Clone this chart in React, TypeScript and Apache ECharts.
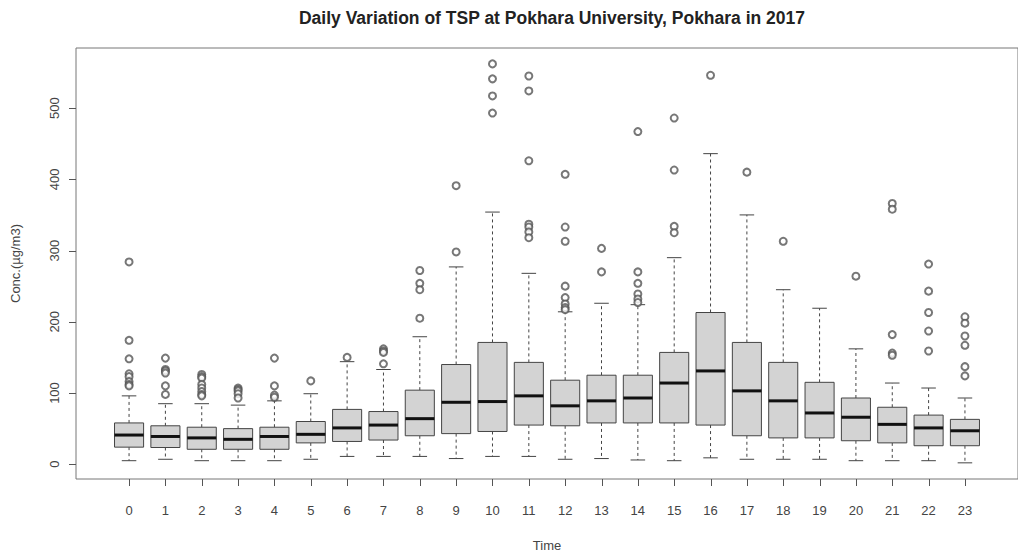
import React, { useEffect, useRef } from "react";
import * as echarts from "echarts";

const hours: number[] = Array.from({ length: 24 }, (_, i) => i);
const yTicks: number[] = [0, 100, 200, 300, 400, 500];

const lowerWhisker: number[] = [5, 7, 5, 5, 5, 7, 11, 11, 11, 8, 11, 11, 7, 8, 6, 5, 9, 7, 7, 7, 5, 5, 5, 2];
const q1: number[] = [24, 23.5, 21, 21, 21, 30, 32, 34, 40, 43, 46, 55, 54, 58, 58, 58, 55, 40, 37, 37, 33, 30, 26, 26];
const median: number[] = [41, 39, 37, 35, 39, 42, 51, 55, 64, 87, 88, 96, 82, 89, 93, 114, 131, 103, 89, 72, 66, 56, 51, 47];
const q3: number[] = [58, 54, 52, 50, 52, 60, 77, 74, 104, 140, 171, 143, 118, 125, 125, 157, 213, 171, 143, 115, 93, 80, 69, 63];
const upperWhisker: number[] = [96, 85, 85, 83, 89, 99, 144, 133, 179, 277, 354, 268, 214, 226, 224, 290, 436, 350, 245, 219, 162, 114, 107, 93];

const outliers: number[][] = [
  [284, 174, 148, 127, 123, 116, 112, 110],
  [149, 133, 131, 128, 110, 98],
  [126, 123, 121, 112, 107, 102, 98, 96],
  [107, 105, 103, 99, 93],
  [149, 110, 97, 94],
  [117],
  [150],
  [162, 159, 157, 141],
  [272, 254, 245, 205],
  [391, 298],
  [562, 541, 517, 493],
  [545, 524, 426, 337, 333, 326, 318],
  [407, 333, 313, 250, 234, 225, 220, 217],
  [303, 270],
  [467, 270, 254, 239, 232, 227],
  [486, 413, 334, 325],
  [546],
  [410],
  [313],
  [],
  [264],
  [366, 358, 182, 156, 153],
  [281, 243, 213, 187, 159],
  [207, 198, 180, 167, 137, 124],
];

const FONT = "'Liberation Sans', Arial, sans-serif";
const X_MIN = -1.46;
const X_MAX = 24.46;
const Y_MIN = -20.7;
const Y_MAX = 584.3;

export default function App() {
  const ref = useRef<HTMLDivElement>(null);

  useEffect(() => {
    if (!ref.current) return;
    const chart = echarts.init(ref.current, undefined, { renderer: "svg" });

    const boxData = hours.map((h, i) => [h, lowerWhisker[i], q1[i], median[i], q3[i], upperWhisker[i]]);
    const outlierData: number[][] = [];
    outliers.forEach((arr, i) => arr.forEach((v) => outlierData.push([hours[i], v])));

    const renderItem = (params: any, api: any) => {
      const x = api.value(0);
      const lo = api.coord([x, api.value(1)]);
      const b1 = api.coord([x, api.value(2)]);
      const md = api.coord([x, api.value(3)]);
      const b3 = api.coord([x, api.value(4)]);
      const hi = api.coord([x, api.value(5)]);
      const w = api.size([0.8, 0])[0];
      const hw = w / 2;
      const cap = hw / 2;
      const cx = md[0];
      const dash = { stroke: "#444", lineWidth: 1, lineDash: [3, 3] };
      const solid = { stroke: "#444", lineWidth: 1 };
      return {
        type: "group",
        children: [
          { type: "line", shape: { x1: cx, y1: b3[1], x2: cx, y2: hi[1] }, style: dash },
          { type: "line", shape: { x1: cx, y1: b1[1], x2: cx, y2: lo[1] }, style: dash },
          { type: "line", shape: { x1: cx - cap, y1: hi[1], x2: cx + cap, y2: hi[1] }, style: solid },
          { type: "line", shape: { x1: cx - cap, y1: lo[1], x2: cx + cap, y2: lo[1] }, style: solid },
          {
            type: "rect",
            shape: { x: cx - hw, y: b3[1], width: w, height: b1[1] - b3[1] },
            style: { fill: "#d3d3d3", stroke: "#444", lineWidth: 1 },
          },
          {
            type: "line",
            shape: { x1: cx - hw, y1: md[1], x2: cx + hw, y2: md[1] },
            style: { stroke: "#111", lineWidth: 3 },
          },
        ],
      };
    };

    const xTickItem = (params: any, api: any) => {
      const p = api.coord([api.value(0), api.value(1)]);
      const x = Math.round(p[0]) + 0.5;
      return {
        type: "line",
        shape: { x1: x, y1: p[1], x2: x, y2: p[1] + 7 },
        style: { stroke: "#555", lineWidth: 1 },
      };
    };
    const yTickItem = (params: any, api: any) => {
      const p = api.coord([api.value(0), api.value(1)]);
      const y = Math.round(p[1]) + 0.5;
      return {
        type: "line",
        shape: { x1: p[0], y1: y, x2: p[0] - 7, y2: y },
        style: { stroke: "#555", lineWidth: 1 },
      };
    };

    chart.setOption({
      animation: false,
      backgroundColor: "#ffffff",
      title: {
        text: "Daily Variation of TSP at Pokhara University, Pokhara in 2017",
        left: 547,
        top: 4,
        textAlign: "center",
        textStyle: { fontFamily: FONT, fontSize: 17.5, fontWeight: "bold", color: "#222" },
      },
      grid: {
        left: 76,
        top: 48,
        width: 952,
        height: 438,
        show: true,
        borderColor: "#777",
        borderWidth: 1,
        backgroundColor: "transparent",
        containLabel: false,
      },
      xAxis: {
        type: "value",
        min: X_MIN,
        max: X_MAX,
        name: "Time",
        nameLocation: "middle",
        nameGap: 60,
        nameTextStyle: { fontFamily: FONT, fontSize: 13, color: "#444" },
        axisLine: { show: false, onZero: false },
        splitLine: { show: false },
        axisTick: { show: false },
        axisLabel: {
          customValues: hours,
          margin: 25,
          fontFamily: FONT,
          fontSize: 13,
          color: "#444",
          formatter: (v: number) => String(v),
        },
      },
      yAxis: {
        type: "value",
        min: Y_MIN,
        max: Y_MAX,
        name: "Conc.(µg/m3)",
        nameLocation: "middle",
        nameRotate: 90,
        nameGap: 54,
        nameTextStyle: { fontFamily: FONT, fontSize: 13, color: "#444" },
        axisLine: { show: false, onZero: false },
        splitLine: { show: false },
        axisTick: { show: false },
        axisLabel: {
          customValues: yTicks,
          rotate: 90,
          margin: 15,
          fontFamily: FONT,
          fontSize: 13,
          color: "#444",
          formatter: (v: number) => String(v),
        },
      },
      series: [
        {
          type: "custom",
          renderItem,
          data: boxData,
          encode: { x: 0, y: [1, 2, 3, 4, 5] },
          clip: false,
        },
        {
          type: "scatter",
          data: outlierData,
          symbol: "emptyCircle",
          symbolSize: 7,
          itemStyle: { color: "#555", borderColor: "#555", borderWidth: 0.8 },
        },
        {
          type: "custom",
          renderItem: xTickItem,
          data: hours.map((h) => [h, Y_MIN]),
          encode: { x: 0, y: 1 },
          clip: false,
          silent: true,
          z: 10,
        },
        {
          type: "custom",
          renderItem: yTickItem,
          data: yTicks.map((v) => [X_MIN, v]),
          encode: { x: 0, y: 1 },
          clip: false,
          silent: true,
          z: 10,
        },
      ],
    });

    return () => chart.dispose();
  }, []);

  return (
    <div
      ref={ref}
      style={{ position: "absolute", left: 0, top: 0, width: 1018, height: 557 }}
    />
  );
}
